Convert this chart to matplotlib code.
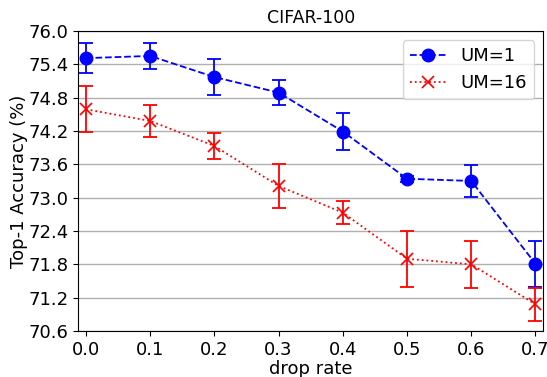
import numpy as np
import matplotlib
matplotlib.use('Agg')
import matplotlib.pyplot as plt

# ── Data ──────────────────────────────────────────────────────────────────────
drop_rate = [0.0, 0.1, 0.2, 0.3, 0.4, 0.5, 0.6, 0.7]
um1_mean = [75.51, 75.55, 75.17, 74.89, 74.19, 73.34, 73.30, 71.81]
um1_err = [0.27, 0.23, 0.33, 0.23, 0.34, 0.05, 0.29, 0.41]
um16_mean = [74.59, 74.38, 73.93, 73.21, 72.73, 71.90, 71.80, 71.08]
um16_err = [0.41, 0.29, 0.24, 0.40, 0.21, 0.50, 0.42, 0.30]
yticks = [70.6, 71.2, 71.8, 72.4, 73.0, 73.6, 74.2, 74.8, 75.4, 76.0]

fig = plt.figure(figsize=(5.47, 3.77), dpi=100)
ax = fig.add_axes([0.143, 0.122, 0.850, 0.796])

# error bars first, lines with markers on top (legend shows plain handles)
ax.errorbar(drop_rate, um1_mean, yerr=um1_err, fmt='none', ecolor='blue',
            capsize=5, elinewidth=1.3, capthick=1.3)
ax.errorbar(drop_rate, um16_mean, yerr=um16_err, fmt='none', ecolor='red',
            capsize=5, elinewidth=1.3, capthick=1.3)
ax.plot(drop_rate, um1_mean, color='blue', linestyle='--', marker='o',
        markersize=9, linewidth=1.3, label='UM=1')
ax.plot(drop_rate, um16_mean, color='red', linestyle=':', marker='x',
        markersize=9, markeredgewidth=1.2, linewidth=1.3, label='UM=16')

ax.set_ylim(70.6, 76.0)
ax.set_yticks(yticks)
ax.set_yticklabels([f"{v:.1f}" for v in yticks])
ax.set_xticks(drop_rate)
ax.set_xticklabels([f"{v:.1f}" for v in drop_rate])
ax.set_xlim(-0.012, 0.712)
ax.tick_params(labelsize=13)
ax.yaxis.grid(True, color='#b0b0b0', linewidth=1)
ax.set_axisbelow(True)

ax.set_xlabel("drop rate", fontsize=13, labelpad=1)
ax.set_ylabel("Top-1 Accuracy (%)", fontsize=13, labelpad=0)
ax.set_title("CIFAR-100", fontsize=12.5)
ax.legend(loc='upper right', fontsize=13)

fig.savefig("out.png", dpi=100)
